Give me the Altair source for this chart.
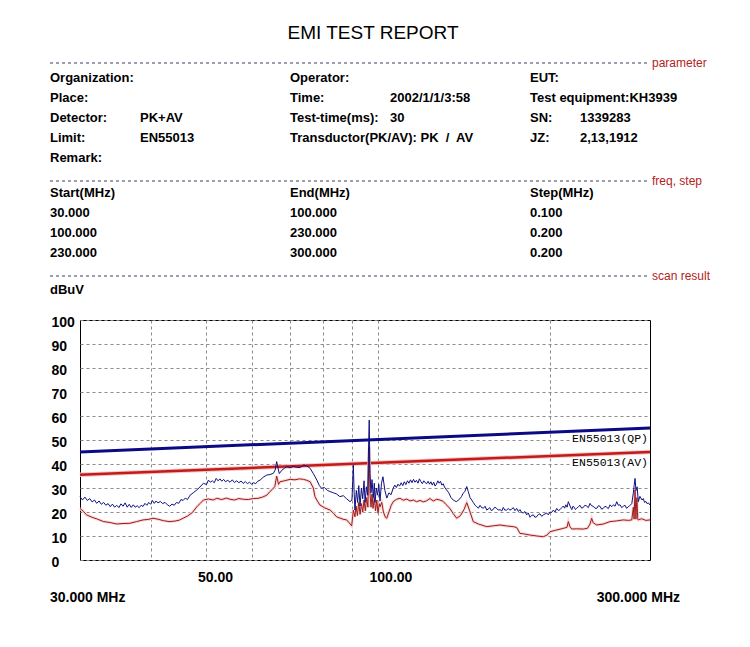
import altair as alt
import pandas as pd

# ---------------- data ----------------
pk_freq = [30.0, 30.3, 30.6, 30.9, 31.2, 31.5, 31.8, 32.1, 32.4, 32.7,
           33.0, 33.3, 33.6, 33.9, 34.2, 34.5, 34.8, 35.1, 35.4, 35.7,
           36.0, 36.3, 36.6, 36.9, 37.2, 37.5, 37.8, 38.1, 38.4, 38.7,
           39.0, 39.3, 39.6, 39.9, 40.2, 40.5, 40.8, 41.1, 41.5, 41.9,
           42.3, 42.7, 43.1, 43.5, 43.9, 44.3, 44.7, 45.1, 45.5, 45.9,
           46.3, 46.8, 47.4, 48.1, 48.7, 49.4, 50.0, 50.4, 50.8, 51.2,
           51.6, 52.0, 52.4, 52.8, 53.2, 53.6, 54.0, 54.5, 55.0, 55.5,
           56.0, 56.5, 57.0, 57.5, 58.0, 58.5, 59.0, 59.5, 60.0, 60.5,
           61.0, 61.5, 62.1, 62.9, 63.8, 64.6, 65.5, 66.0, 66.4, 66.8,
           67.1, 67.8, 68.5, 69.2, 70.1, 71.0, 72.0, 73.0, 74.0, 75.0,
           76.0, 77.0, 78.1, 78.9, 79.6, 80.5, 81.5, 82.4, 83.5, 84.6,
           85.7, 86.9, 88.1, 89.3, 90.0, 90.5, 90.8, 91.1, 91.6, 92.1,
           92.5, 93.0, 93.5, 94.0, 94.5, 94.9, 95.4, 95.9, 96.2, 96.5,
           96.8, 97.2, 97.6, 98.1, 98.5, 98.8, 99.3, 99.8, 100.3, 100.8,
           101.4, 102.0, 102.8, 103.6, 104.5, 105.4, 106.3, 107.0, 107.7, 108.4,
           109.1, 109.8, 110.5, 111.2, 111.9, 112.6, 113.3, 114.0, 114.7, 115.4,
           116.1, 116.8, 117.5, 118.2, 118.9, 119.6, 120.3, 121.0, 121.7, 122.4,
           123.1, 123.8, 124.5, 125.2, 125.9, 126.6, 127.3, 128.0, 128.7, 129.4,
           130.1, 130.8, 131.9, 133.1, 134.3, 135.5, 136.4, 137.4, 138.3, 139.2,
           140.1, 141.0, 142.0, 143.1, 144.0, 145.0, 146.0, 146.9, 148.0, 149.0,
           150.0, 151.0, 152.0, 153.1, 154.1, 155.1, 156.0, 157.0, 158.0, 159.0,
           160.2, 161.3, 162.5, 163.7, 164.8, 165.8, 166.9, 168.0, 169.2, 170.4,
           171.6, 172.7, 173.9, 175.1, 176.3, 177.4, 178.6, 179.8, 181.0, 182.3,
           183.5, 184.8, 186.0, 187.3, 188.5, 189.8, 191.1, 192.4, 193.7, 195.0,
           196.3, 197.6, 198.9, 200.3, 201.6, 203.0, 204.4, 205.8, 207.2, 208.6,
           210.0, 211.4, 212.5, 213.5, 214.6, 215.7, 217.2, 218.7, 219.8, 220.9,
           222.0, 223.1, 224.6, 226.1, 227.6, 229.1, 230.6, 232.2, 233.8, 235.4,
           236.9, 238.5, 240.2, 241.9, 243.5, 245.1, 246.7, 248.4, 250.1, 251.8,
           253.5, 255.3, 257.0, 258.8, 260.5, 262.3, 264.0, 265.8, 267.6, 269.4,
           271.2, 273.0, 274.7, 276.4, 278.7, 280.5, 281.4, 282.4, 283.5, 284.8,
           286.2, 288.0, 290.5, 292.0, 293.5, 295.0, 296.5, 298.2, 300.0]
pk_level = [26.4, 25.0, 26.2, 24.8, 25.6, 24.2, 25.0, 23.6, 24.6, 23.2,
            24.0, 22.8, 23.5, 22.2, 23.3, 22.0, 22.8, 21.8, 23.4, 22.4,
            23.8, 22.0, 23.2, 21.9, 23.0, 22.0, 22.6, 21.8, 22.8, 22.3,
            23.6, 22.8, 24.0, 23.2, 24.8, 23.6, 24.6, 23.8, 24.4, 23.5,
            24.0, 23.0, 22.4, 23.3, 22.8, 24.0, 23.6, 25.2, 24.8, 25.8,
            25.2, 27.0, 28.0, 29.2, 30.4, 32.0, 31.4, 33.3, 32.4, 33.0,
            32.2, 34.0, 33.0, 33.8, 32.8, 33.6, 32.6, 33.2, 32.4, 33.4,
            32.3, 33.0, 32.2, 32.9, 31.9, 32.7, 31.8, 32.4, 31.6, 32.2,
            31.8, 32.8, 33.3, 34.5, 35.4, 35.6, 36.1, 37.5, 41.0, 38.0,
            36.0, 37.4, 38.2, 38.9, 38.4, 39.0, 38.6, 38.5, 39.6, 39.2,
            38.2, 36.0, 33.3, 31.0, 29.9, 30.2, 29.0, 28.5, 28.0, 27.5,
            26.4, 26.8, 25.5, 24.3, 25.0, 39.6, 28.0, 20.8, 29.0, 24.0,
            31.0, 22.5, 30.0, 25.5, 33.0, 24.0, 30.5, 27.0, 45.0, 58.3,
            36.0, 28.0, 33.5, 26.0, 32.0, 24.0, 30.0, 27.0, 31.5, 24.5,
            32.0, 34.7, 29.0, 25.8, 28.0, 27.2, 29.9, 31.2, 30.2, 31.6,
            30.8, 32.2, 31.0, 32.6, 31.4, 33.0, 32.0, 33.4, 32.2, 33.6,
            32.4, 33.2, 32.0, 33.8, 32.6, 31.8, 33.0, 32.2, 31.8, 32.8,
            31.6, 32.6, 31.2, 32.4, 30.8, 31.6, 33.0, 32.0, 32.8, 31.2,
            31.8, 30.4, 29.2, 28.0, 26.0, 25.0, 24.6, 24.3, 25.0, 25.5,
            26.4, 27.8, 28.5, 30.6, 28.5, 26.0, 25.0, 24.0, 22.8, 22.2,
            21.6, 22.8, 21.8, 21.6, 22.4, 20.8, 21.2, 21.8, 20.6, 20.9,
            22.0, 21.6, 20.8, 21.0, 20.4, 21.9, 20.8, 20.8, 21.4, 20.8,
            21.2, 21.8, 20.6, 21.5, 20.2, 21.0, 19.8, 19.6, 20.2, 18.8,
            19.6, 17.8, 18.6, 18.8, 17.8, 18.0, 19.0, 19.2, 18.2, 18.8,
            19.2, 19.6, 18.8, 20.0, 19.8, 20.8, 20.0, 21.5, 20.6, 21.0,
            21.8, 22.5, 21.6, 23.0, 22.0, 24.3, 22.5, 21.0, 22.4, 22.0,
            21.0, 21.5, 22.2, 22.8, 21.6, 21.9, 22.8, 22.5, 21.8, 23.6,
            22.6, 22.4, 21.6, 21.5, 22.6, 22.4, 21.2, 21.5, 22.4, 22.0,
            21.4, 23.0, 22.2, 23.0, 22.4, 24.3, 22.8, 23.0, 21.8, 22.4,
            22.8, 21.5, 22.2, 22.6, 23.5, 28.0, 31.0, 34.0, 29.0, 30.5,
            24.3, 26.5, 25.0, 25.6, 24.0, 24.4, 23.5, 23.8, 22.9]

av_freq = [30.0, 30.4, 30.8, 31.5, 32.2, 33.0, 33.9, 34.8, 35.7, 36.7,
           37.7, 38.7, 39.5, 40.3, 41.1, 42.0, 43.0, 44.0, 44.8, 45.5,
           46.3, 47.2, 48.1, 48.7, 49.4, 50.4, 51.4, 52.1, 53.2, 54.2,
           55.0, 56.0, 57.0, 58.0, 59.2, 60.4, 61.6, 62.7, 63.8, 64.6,
           65.3, 65.9, 66.4, 66.9, 67.3, 68.5, 70.1, 71.5, 72.8, 74.0,
           75.0, 76.0, 77.0, 77.5, 78.3, 79.1, 80.5, 82.4, 83.5, 84.6,
           85.7, 86.8, 88.1, 89.0, 89.9, 90.5, 91.1, 91.5, 92.0, 92.5,
           93.0, 93.5, 94.0, 94.5, 95.0, 95.5, 96.0, 96.3, 96.5, 96.8,
           97.2, 97.6, 98.0, 98.5, 99.0, 99.5, 100.0, 100.5, 100.8, 101.5,
           102.2, 103.0, 103.6, 104.5, 105.4, 106.3, 107.8, 109.3, 110.8, 112.3,
           113.8, 115.3, 116.8, 118.5, 120.1, 121.7, 123.3, 125.0, 126.7, 128.4,
           130.0, 131.5, 133.7, 135.5, 137.4, 139.5, 141.5, 143.1, 144.8, 146.9,
           150.0, 155.1, 160.0, 163.7, 168.0, 172.7, 175.1, 177.4, 180.0, 184.8,
           190.0, 195.0, 198.0, 200.3, 205.0, 211.4, 214.5, 215.7, 217.0, 218.7,
           223.1, 229.1, 233.0, 235.5, 237.0, 238.5, 241.9, 248.4, 255.3, 262.3,
           269.4, 275.0, 278.7, 280.5, 281.3, 282.4, 283.4, 284.5, 285.5, 286.2,
           290.0, 295.0, 300.0]
av_level = [21.5, 20.3, 18.8, 17.8, 17.0, 16.0, 15.6, 15.0, 15.2, 15.3,
            16.0, 16.7, 16.9, 17.4, 17.0, 16.4, 16.0, 16.2, 16.6, 17.4,
            18.3, 19.7, 22.2, 23.5, 25.0, 25.4, 25.0, 25.7, 25.2, 25.8,
            25.3, 25.0, 25.6, 25.3, 25.2, 25.6, 25.7, 26.2, 27.0, 28.5,
            29.5, 30.6, 35.0, 31.5, 32.6, 33.0, 33.6, 33.4, 33.8, 33.6,
            33.2, 32.6, 30.0, 26.4, 24.5, 22.9, 21.8, 20.8, 19.5, 18.0,
            17.5, 17.0, 16.7, 15.5, 14.2, 20.8, 18.0, 22.5, 18.5, 24.0,
            19.0, 23.5, 20.0, 25.0, 20.5, 26.0, 22.0, 40.0, 47.0, 28.0,
            22.0, 27.5, 21.5, 26.0, 20.5, 25.0, 19.5, 23.5, 22.2, 24.0,
            20.0, 17.8, 17.4, 20.0, 22.6, 24.3, 25.3, 25.7, 24.9, 25.4,
            24.6, 25.0, 24.3, 24.8, 24.2, 24.7, 25.6, 24.6, 25.3, 25.0,
            24.5, 23.2, 21.5, 19.3, 17.4, 18.5, 21.0, 23.9, 20.5, 16.0,
            15.0, 13.9, 14.3, 14.6, 14.2, 13.9, 13.5, 11.1, 10.9, 10.4,
            10.0, 9.7, 10.4, 11.8, 12.4, 13.2, 13.6, 16.0, 14.0, 12.9,
            13.0, 12.9, 13.2, 15.0, 17.4, 15.5, 14.6, 15.0, 16.0, 16.3,
            16.7, 16.5, 16.7, 22.0, 17.0, 29.2, 17.0, 26.0, 17.0, 16.7,
            17.2, 16.5, 16.7]

limit_freq = [30.0, 300.0]
qp_limit = [45.0, 55.0]
av_limit = [35.5, 45.0]

grid_freqs = [40, 50, 60, 70, 80, 90, 100, 200]
level_ticks = list(range(0, 101, 10))

NB = "\u00a0"
title_text = "EMI TEST REPORT"
param_rows = [
    ["Organization:", "", "Operator:", "", "EUT:", ""],
    ["Place:", "", "Time:", "2002/1/1/3:58", "Test equipment:KH3939", ""],
    ["Detector:", "PK+AV", "Test-time(ms):", "30", "SN:", "1339283"],
    ["Limit:", "EN55013", "Transductor(PK/AV): PK" + NB + " /" + NB + " AV", "", "JZ:", "2,13,1912"],
    ["Remark:", "", "", "", "", ""],
]
freq_rows = [
    ["Start(MHz)", "End(MHz)", "Step(MHz)"],
    ["30.000", "100.000", "0.100"],
    ["100.000", "230.000", "0.200"],
    ["230.000", "300.000", "0.200"],
]
section_labels = ["parameter", "freq, step", "scan result"]
unit_label = "dBuV"
limit_labels = ["EN55013(QP)", "EN55013(AV)"]
range_labels = ["30.000 MHz", "300.000 MHz"]

pk_df = pd.DataFrame({"freq": pk_freq, "level": pk_level})
av_df = pd.DataFrame({"freq": av_freq, "level": av_level})
qp_df = pd.DataFrame({"freq": limit_freq, "level": qp_limit})
avl_df = pd.DataFrame({"freq": limit_freq, "level": av_limit})
one = pd.DataFrame({"k": [0]})

# ---------------- layout ----------------
OX, OY = 80, 320          # page position of plot origin
FONT = "Liberation Sans, Arial, sans-serif"
MONO = "Liberation Mono, Courier New, monospace"

xscale = alt.Scale(type="log", domain=[30, 300], nice=False)
yscale = alt.Scale(domain=[0, 100], nice=False)
xaxis = alt.Axis(values=grid_freqs, grid=True, gridDash=[3, 3], gridColor="#8a8a8a",
                 gridOpacity=1, ticks=False, domain=False, title=None,
                 labelExpr="datum.value == 50 ? '50.00' : (datum.value == 100 ? '100.00' : '')",
                 labelAlign="left", labelOffset=-9, labelPadding=10,
                 labelFont=FONT, labelFontSize=14, labelFontWeight="bold",
                 labelColor="black", labelFlush=False, labelOverlap=False)
yaxis = alt.Axis(values=level_ticks, grid=True, gridDash=[3, 3], gridColor="#8a8a8a",
                 gridOpacity=1, ticks=False, domain=False, title=None,
                 labelAlign="left", labelPadding=29, labelOffset=2,
                 labelFont=FONT, labelFontSize=14, labelFontWeight="bold",
                 labelColor="black", labelFlush=False, labelOverlap=False)
X = alt.X("freq:Q", scale=xscale, axis=xaxis)
Y = alt.Y("level:Q", scale=yscale, axis=yaxis)


def txt(s, x, y, size=13, weight="bold", align="left", color="black", font=FONT):
    return alt.Chart(one).mark_text(
        text=s, align=align, baseline="middle", font=font, fontSize=size,
        fontWeight=weight, color=color
    ).encode(x=alt.value(x - OX), y=alt.value(y - OY))


def sep(y):
    return alt.Chart(one).mark_rule(color="#3c3c5c", strokeWidth=1, strokeDash=[3, 3]).encode(
        x=alt.value(50 - OX), x2=alt.value(648 - OX), y=alt.value(y - OY))


def blank(x0, x1, y0, y1):
    return alt.Chart(one).mark_rect(color="white").encode(
        x=alt.value(x0 - OX), x2=alt.value(x1 - OX), y=alt.value(y0 - OY), y2=alt.value(y1 - OY))


layers = []
# white boxes behind the limit labels (drawn first so the lines stay on top)
layers.append(blank(571, 649, 432, 446))
layers.append(blank(571, 649, 457, 470))
# traces and limits
layers.append(alt.Chart(qp_df).mark_line(color="#0a0a84", strokeWidth=3).encode(x=X, y=Y))
layers.append(alt.Chart(avl_df).mark_line(color="#f4c8c8", strokeWidth=4.5).encode(x=X, y=Y))
layers.append(alt.Chart(avl_df).mark_line(color="#c41a1a", strokeWidth=2.5).encode(x=X, y=Y))
layers.append(alt.Chart(av_df).mark_line(color="#f9d8d8", strokeWidth=3).encode(x=X, y=Y))
layers.append(alt.Chart(av_df).mark_line(color="#9c1c1c", strokeWidth=1).encode(x=X, y=Y))
layers.append(alt.Chart(pk_df).mark_line(color="#101080", strokeWidth=1).encode(x=X, y=Y))

# limit labels
layers.append(txt(limit_labels[0], 648, 438.5, size=11.5, weight="normal", align="right",
                  color="black", font=MONO))
layers.append(txt(limit_labels[1], 648, 463, size=11.5, weight="normal", align="right",
                  color="black", font=MONO))

# title and header
layers.append(txt(title_text, 373, 33, size=19, weight="normal", align="center"))
for y, lab in zip([63, 181, 276], section_labels):
    layers.append(sep(y))
    layers.append(txt(lab, 652, y, size=12, weight="normal", color="#b22222"))

col_x = [50, 140, 290, 390, 530, 580]
for i, row in enumerate(param_rows):
    for cx, s in zip(col_x, row):
        if s:
            layers.append(txt(s, cx, 78 + 20 * i))
for i, row in enumerate(freq_rows):
    for cx, s in zip([50, 290, 530], row):
        layers.append(txt(s, cx, 193 + 20 * i))
layers.append(txt(unit_label, 50, 290))
layers.append(txt(range_labels[0], 50, 598, size=14))
layers.append(txt(range_labels[1], 680, 598, size=14, align="right"))

chart = alt.layer(*layers).properties(
    width=570, height=240,
    autosize=alt.AutoSizeParams(type="none"),
    padding={"left": OX - 8, "top": OY - 8, "right": 92, "bottom": 70},
).configure_view(stroke="black", strokeWidth=1)

chart.save("out.html", embed_options={"renderer": "svg", "actions": False})
